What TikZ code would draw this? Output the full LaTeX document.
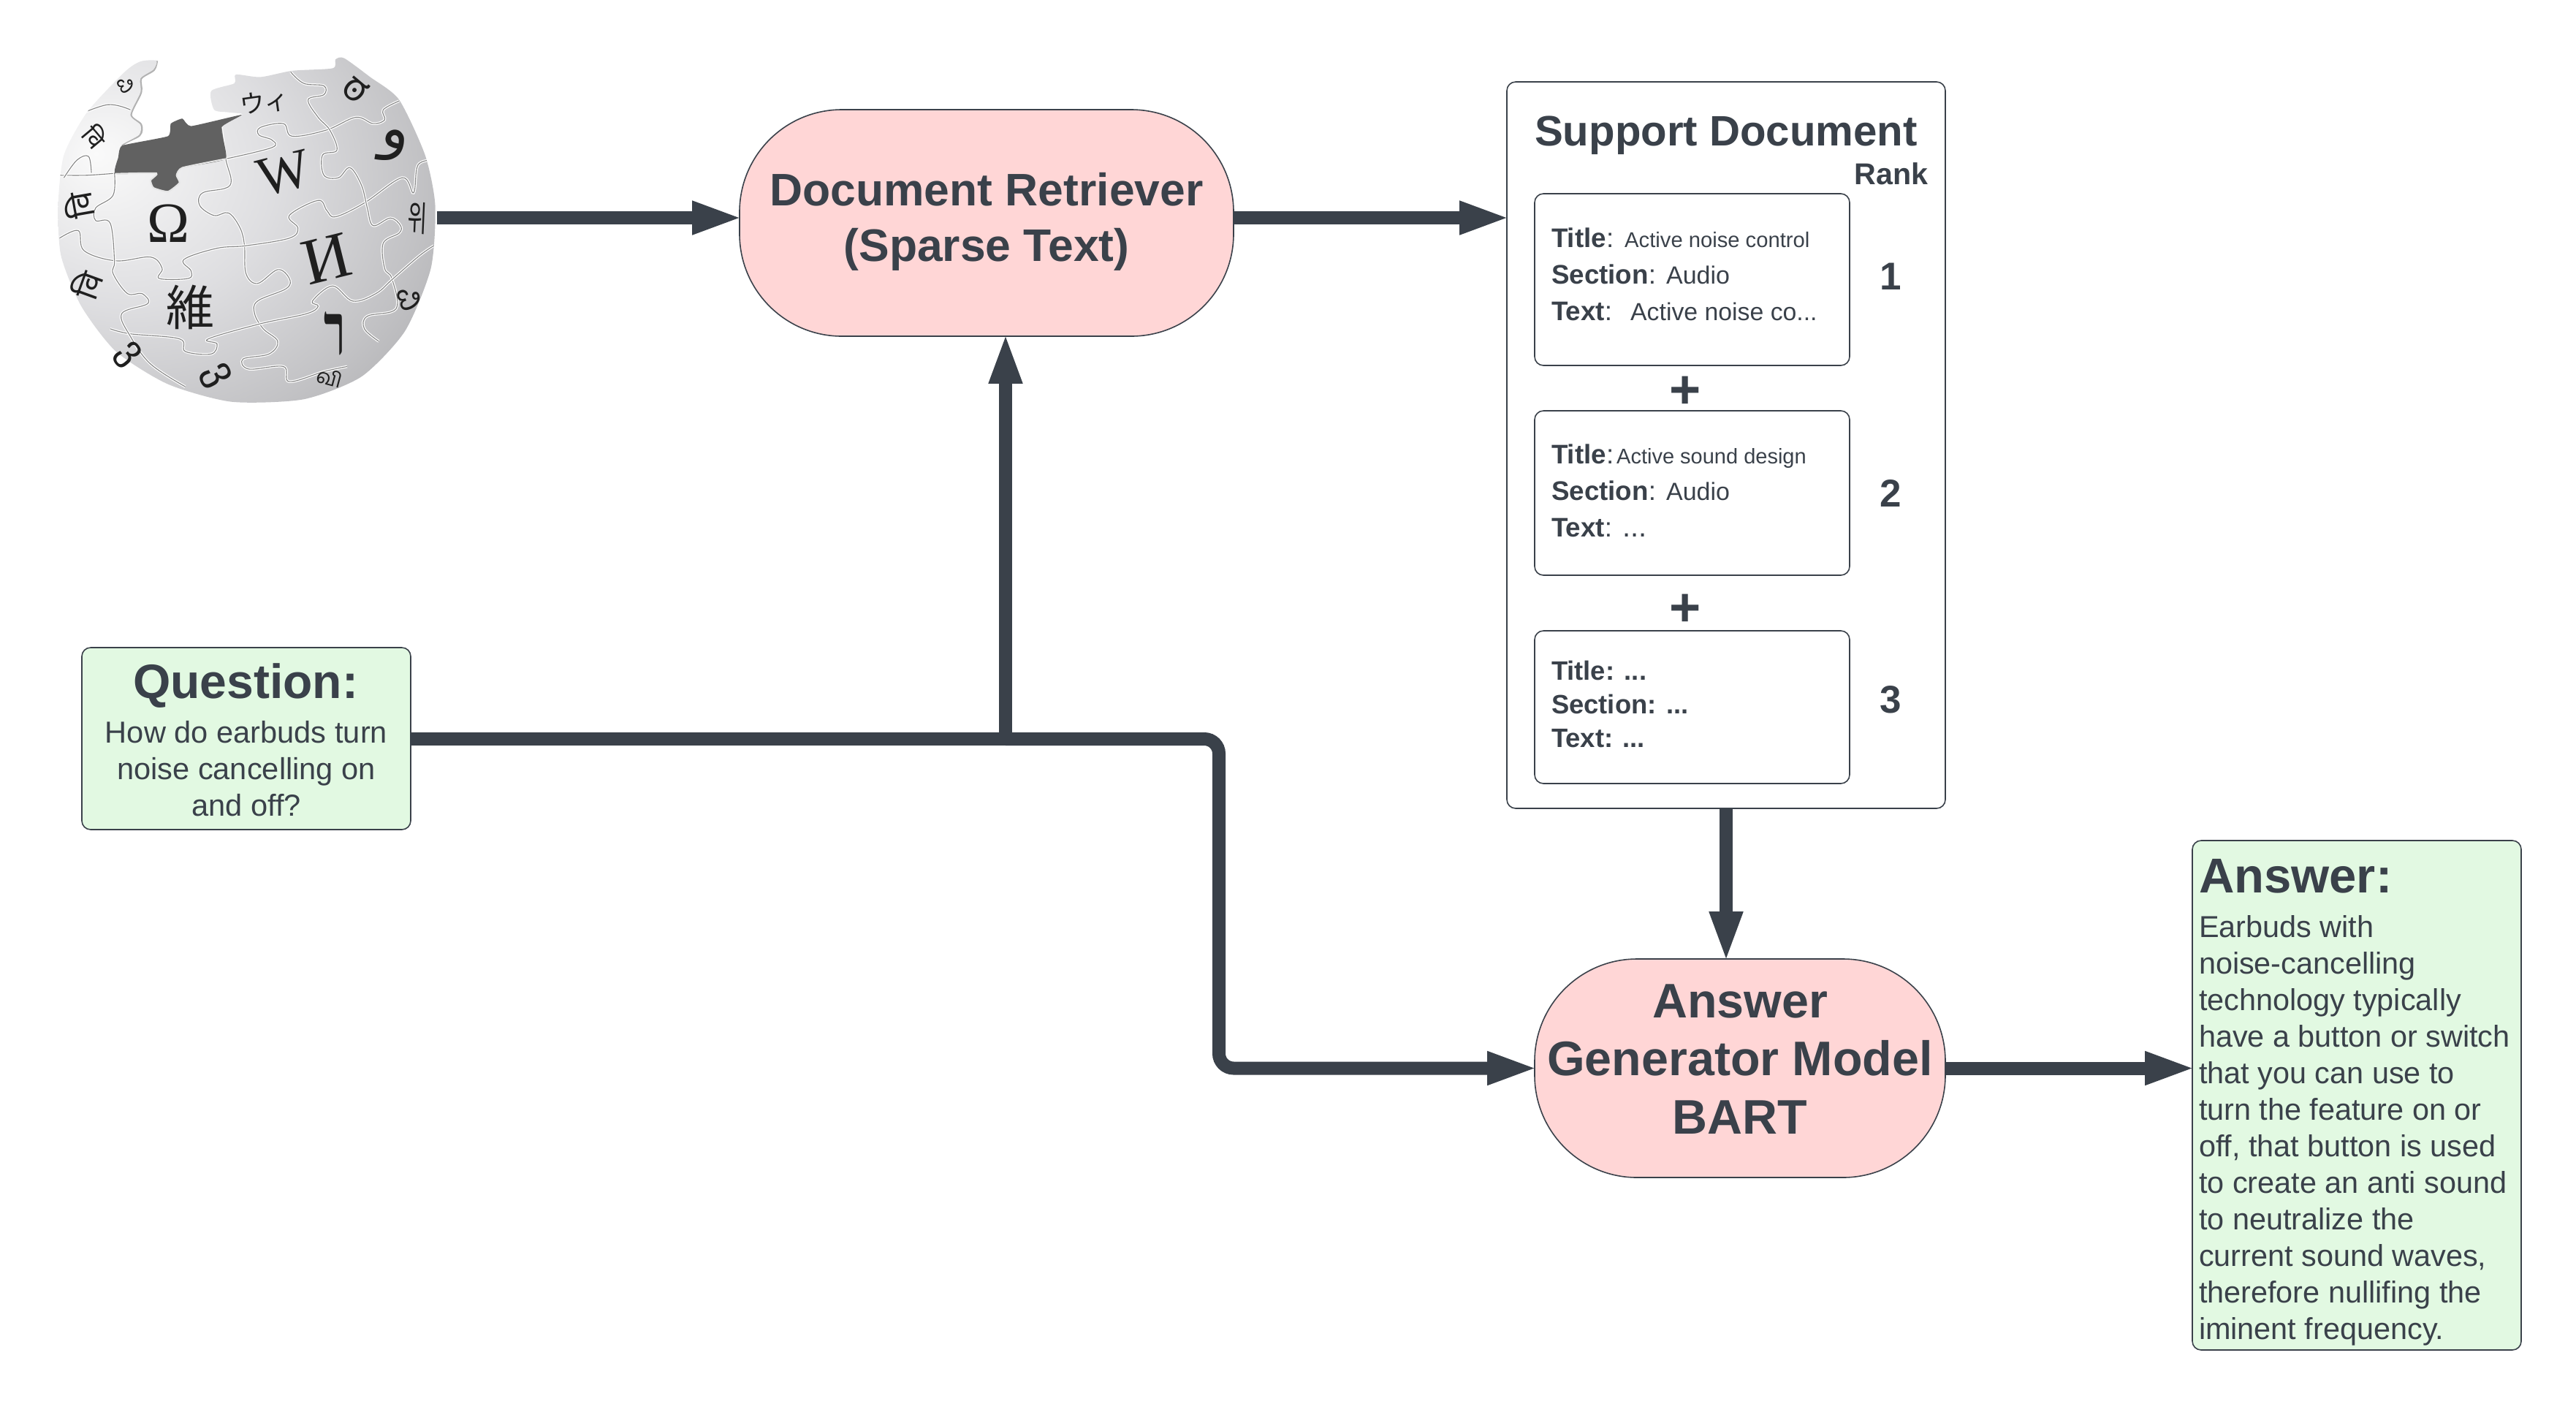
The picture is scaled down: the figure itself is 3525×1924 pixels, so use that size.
\documentclass[tikz,border=0pt]{standalone}
\usepackage{fontspec}
\setmainfont{Liberation Sans}
\newfontfamily\glyphserif{Liberation Serif}
\newfontfamily\cjkjp{Noto Sans CJK JP}
\newfontfamily\cjkkr{Noto Sans CJK KR}
\newfontfamily\arabicfont[Script=Arabic]{DejaVu Sans}
\newfontfamily\hebfont[Script=Hebrew]{Liberation Serif}
\newfontfamily\devafont[Script=Devanagari]{Noto Sans}
\newfontfamily\geofont{DejaVu Sans}
\newfontfamily\kanfont[Script=Kannada]{Hind Mysuru}
\newfontfamily\tamfont[Script=Tamil]{Hind Madurai}
\TeXXeTstate=1
\usetikzlibrary{arrows.meta}
\definecolor{ink}{HTML}{3A414A}
\definecolor{pinkfill}{HTML}{FFD6D6}
\definecolor{greenfill}{HTML}{E2F9E2}
\pgfdeclareradialshading{globeshade}{\pgfpoint{-20bp}{11bp}}{%
 rgb(0bp)=(.98,.98,.98);rgb(20bp)=(.87,.87,.88);rgb(36bp)=(.76,.76,.77);rgb(48bp)=(.66,.66,.67);rgb(58bp)=(.5,.5,.51);rgb(66bp)=(.34,.34,.35);rgb(100bp)=(.28,.28,.28)}
\newcommand{\fs}[1]{\fontsize{#1}{#1}\selectfont}
\newcommand{\lnfs}[2]{\fontsize{#1}{#2}\selectfont}
\tikzset{
 box/.style={draw=ink,line width=1.2pt,rounded corners=6pt,inner sep=0pt},
 pill/.style={draw=ink,line width=.8pt,fill=pinkfill,inner sep=0pt},
 txt/.style={inner sep=0pt,outer sep=0pt,text=ink},
 flow/.style={draw=ink,line width=9pt,-{Triangle[length=35pt,width=20.5pt]},shorten >=-3pt},
 flowplain/.style={draw=ink,line width=9pt},
 seam/.style={draw=black!48,line width=.55pt,preaction={draw=white,line width=1.8pt}},
 gl/.style={inner sep=0pt,text=black!88},
}
\def\ballpath{plot[smooth cycle,tension=.42] coordinates{(440,125)(430,160)(385,195)(385,250)(350,340)(385,380)(380,420)(320,462)(480,425)(490,375)(530,355)(560,385)(735,340)(690,330)(640,320)(630,245)(710,215)(715,180)(800,190)(910,165)(1050,155)(1060,120)(1090,115)(1180,190)(1280,280)(1370,500)(1405,700)(1390,950)(1300,1200)(1150,1380)(950,1470)(700,1480)(480,1410)(300,1280)(180,1100)(110,900)(100,700)(120,500)(200,330)(330,170)(385,128)}}
\begin{document}
\begin{tikzpicture}[x=.5pt,y=-.5pt]
\useasboundingbox (0,0) rectangle (3525,1924);
% --- globe ---
\begin{scope}[shift={(40,40)},x=.1977pt,y=-.1722pt]
 \draw[draw=black!30,line width=2.2pt] plot[smooth,tension=.5] coordinates{(440,125)(430,160)(385,195)(385,250)(350,340)(385,380)(380,420)(315,465)(295,570)};
 \shade[shading=globeshade] \ballpath;
 \begin{scope}
  \clip \ballpath;
  \draw[seam] plot[smooth,tension=.6] coordinates{(105,580)(200,580)(300,572)};
  \draw[seam] plot[smooth,tension=.6] coordinates{(680,515)(840,470)(840,440)(795,420)(800,390)(880,375)(910,425)(1030,400)(1130,350)(1190,375)(1230,360)(1225,320)(1280,285)};
  \draw[seam] plot[smooth,tension=.6] coordinates{(665,390)(680,515)(695,620)(600,650)(590,700)(640,740)(690,730)(730,790)(745,860)(750,970)(790,1010)(860,955)(900,990)(890,1030)(790,1080)(780,1130)(810,1190)(860,1240)(830,1290)(740,1310)(760,1350)(880,1340)(900,1400)(1020,1360)(1100,1340)};
  \draw[seam] plot[smooth,tension=.6] coordinates{(105,830)(170,800)(190,880)(300,920)(420,905)(460,950)(450,990)(550,990)(560,960)(535,915)(650,870)(750,860)(900,830)(930,790)(900,740)(1000,680)(1030,720)(1060,745)(1160,690)(1290,590)(1330,650)(1345,540)(1395,520)};
  \draw[seam] plot[smooth,tension=.6] coordinates{(905,170)(950,215)(1020,225)(1020,260)(965,280)(1000,350)(1040,400)(1065,480)(1015,500)(1020,580)(1070,590)(1110,550)(1150,620)(1170,710)(1190,780)(1250,750)(1285,780)(1280,810)(1225,850)(1230,950)(1255,990)(1270,1110)(1170,1140)(1160,1190)(1210,1240)};
  \draw[seam] plot[smooth,tension=.6] coordinates{(280,1190)(350,1210)(520,1230)(540,1280)(630,1290)(650,1250)(620,1230)(800,1170)(960,1130)(1000,1100)(980,1080)(1050,1020)(1120,1080)(1200,1050)(1260,990)(1350,900)(1400,860)};
  \draw[seam] plot[smooth,tension=.6] coordinates{(295,570)(290,660)(230,710)(230,760)(280,770)(295,920)(290,970)(340,1050)(390,1050)(410,1090)(320,1130)(350,1220)(420,1330)(540,1420)};
  \draw[seam] plot[smooth,tension=.6] coordinates{(120,590)(165,520)(205,505)(215,570)};
  \draw[seam] plot[smooth,tension=.6] coordinates{(150,350)(270,300)(350,320)};
 \end{scope}
 \fill[black!62] plot[smooth cycle,tension=.25] coordinates{(322,462)(480,425)(490,375)(530,355)(560,385)(735,340)(665,390)(680,515)(530,550)(510,580)(520,610)(480,645)(430,630)(420,600)(440,572)(298,574)(308,510)};
 \draw[white!90!black,line width=1pt] plot[smooth,tension=.3] coordinates{(298,574)(440,572)(420,600)(430,630)(480,645)(520,610)(510,580)(530,550)(680,515)};
 % glyphs
 \node[gl,font=\glyphserif\fs{39}] (gOmega) at (482,770) {Ω};
 \node[gl,font=\glyphserif\fs{38},rotate=14] (gW) at (882,572) {W};
 \node[gl,font=\glyphserif\fs{45},rotate=14] (gI) at (1030,912) {И};
 \node[gl,font=\cjkjp\fs{33}] (gWei) at (558,1105) {維};
 \node[gl,font=\cjkjp\fs{17},rotate=8] (gVi) at (815,290) {ウィ};
 \node[gl,font=\cjkkr\fs{24},xscale=.6,rotate=-4] (gKo) at (1345,750) {위};
 \node[gl,font=\arabicfont\fs{40},rotate=-10] (gAr) at (1262,465) {\beginR و\endR};
 \node[gl,font=\hebfont\bfseries\fs{50},xscale=.6] (gHe) at (1058,1210) {\beginR ר\endR};
 \node[gl,font=\geofont\fs{28},rotate=-62] (gGe) at (645,1378) {ვ};
 \node[gl,font=\geofont\fs{26},rotate=-50] (gGe2) at (340,1295) {ვ};
 \node[gl,font=\devafont\fs{22},rotate=100] (gDe) at (172,700) {वि};
 \node[gl,font=\devafont\fs{22},rotate=70] (gDe2) at (198,1015) {वि};
 \node[gl,font=\kanfont\fs{22},rotate=-70] (gKn) at (1315,1070) {ವಿ};
 \node[gl,font=\tamfont\fs{14},rotate=-15] (gTa) at (1040,1385) {வி};
 \node[gl,font=\devafont\fs{17},rotate=-50] (gDe3) at (228,425) {वि};
 \node[gl,font=\kanfont\fs{15},rotate=-60] (gKn2) at (335,220) {ವಿ};
 \node[gl,font=\kanfont\fs{26},rotate=-40] (gTop) at (1130,240) {ಠ};
\end{scope}
\coordinate (globeR) at (598,298);
% --- boxes ---
\node[pill,rounded corners=70pt,minimum width=338pt,minimum height=155pt] (ret) at (1350,305) {};
\node[box,minimum width=300pt,minimum height=497pt,line width=.8pt] (sup) at (2362,609) {};
\node[box,minimum width=215.5pt,minimum height=117.5pt,line width=.8pt] (b1) at (2315.5,382.5) {};
\node[box,minimum width=215.5pt,minimum height=112.5pt,line width=.8pt] (b2) at (2315.5,674.5) {};
\node[box,minimum width=215.5pt,minimum height=104.5pt,line width=.8pt] (b3) at (2315.5,967.5) {};
\node[box,fill=greenfill,minimum width=225pt,minimum height=124.5pt,line width=.8pt] (q) at (337,1010.5) {};
\node[pill,rounded corners=70pt,minimum width=281pt,minimum height=149.5pt] (ag) at (2381,1461.5) {};
\node[box,fill=greenfill,minimum width=225pt,minimum height=348.5pt,line width=.8pt] (ans) at (3225,1498.5) {};
% --- text ---
\node[txt,anchor=base] (tRet) at (1350,281) {\parbox[t]{320pt}{\centering\lnfs{31.2}{38}\bfseries Document Retriever\\(Sparse Text)}};
\node[txt,anchor=base] (tAg) at (2381,1392) {\parbox[t]{275pt}{\centering\lnfs{33.2}{39.8}\bfseries Answer\\Generator Model\\BART}};
\node[txt,anchor=base] (tSup) at (2362,199) {\fs{29.1}\bfseries Support Document};
\node[txt,anchor=base] (tRank) at (2588,252) {\fs{20.6}\bfseries Rank};
\node[txt,anchor=base west] (t1) at (2123,338) {\parbox[t]{210pt}{\raggedright\lnfs{18.4}{25}\textbf{Title}:\hspace{7.5pt}{\fs{14.6}Active noise control}\\\textbf{Section}:\hspace{7pt}{\fs{17}Audio}\\\textbf{Text}:\hspace{12.5pt}{\fs{16.9}Active noise co...}}};
\node[txt,anchor=base west] (t2) at (2123,634) {\parbox[t]{210pt}{\raggedright\lnfs{18.4}{25}\textbf{Title}:\hspace{2pt}{\fs{14.5}Active sound design}\\\textbf{Section}:\hspace{7pt}{\fs{17}Audio}\\\textbf{Text}:\hspace{7pt}{\fs{20}...}}};
\node[txt,anchor=base west] (t3) at (2123,930) {\parbox[t]{210pt}{\raggedright\lnfs{18.2}{23}\bfseries Title: ...\\Section: ...\\Text: ...}};
\node[txt,anchor=base] (r1) at (2587,396) {\fs{26.5}\bfseries 1};
\node[txt,anchor=base] (r2) at (2587,693) {\fs{26.5}\bfseries 2};
\node[txt,anchor=base] (r3) at (2587,975) {\fs{26.5}\bfseries 3};
\node[txt,font=\fs{37}\bfseries] (p1) at (2306,537) {+};
\node[txt,font=\fs{37}\bfseries] (p2) at (2306,835) {+};
\node[txt,anchor=base] (tQ) at (336,955) {\fs{33}\bfseries Question:};
\node[txt,anchor=base] (tQb) at (337,1016) {\parbox[t]{220pt}{\centering\lnfs{20.8}{25}How do earbuds turn\\noise cancelling on\\and off?}};
\node[txt,anchor=base west] (tA) at (3009,1221) {\fs{33.5}\bfseries Answer:};
\node[txt,anchor=base west] (tAb) at (3009,1282) {\parbox[t]{218pt}{\raggedright\lnfs{20.7}{25.03}Earbuds with\\noise-cancelling\\technology typically\\have a button or switch\\that you can use to\\turn the feature on or\\off, that button is used\\to create an anti sound\\to neutralize the\\current sound waves,\\therefore nullifing the\\iminent frequency.}};
% --- connectors ---
\coordinate (jn) at (1376,1011);
\coordinate (bend) at (1668,1011);
\draw[flow] (globeR) -- (globeR -| ret.west);
\draw[flow] (globeR -| ret.east) -- (globeR -| sup.west);
\draw[flowplain] (q.east |- jn) -- (jn);
\draw[flow] (jn) -- (jn |- ret.south);
\draw[flow,rounded corners=10pt] (jn) -- (bend) |- (ag.west);
\draw[flow] (sup.south) -- (sup.south |- ag.north);
\draw[flow] (ag.east) -- (ag.east -| ans.west);
\end{tikzpicture}
\end{document}
